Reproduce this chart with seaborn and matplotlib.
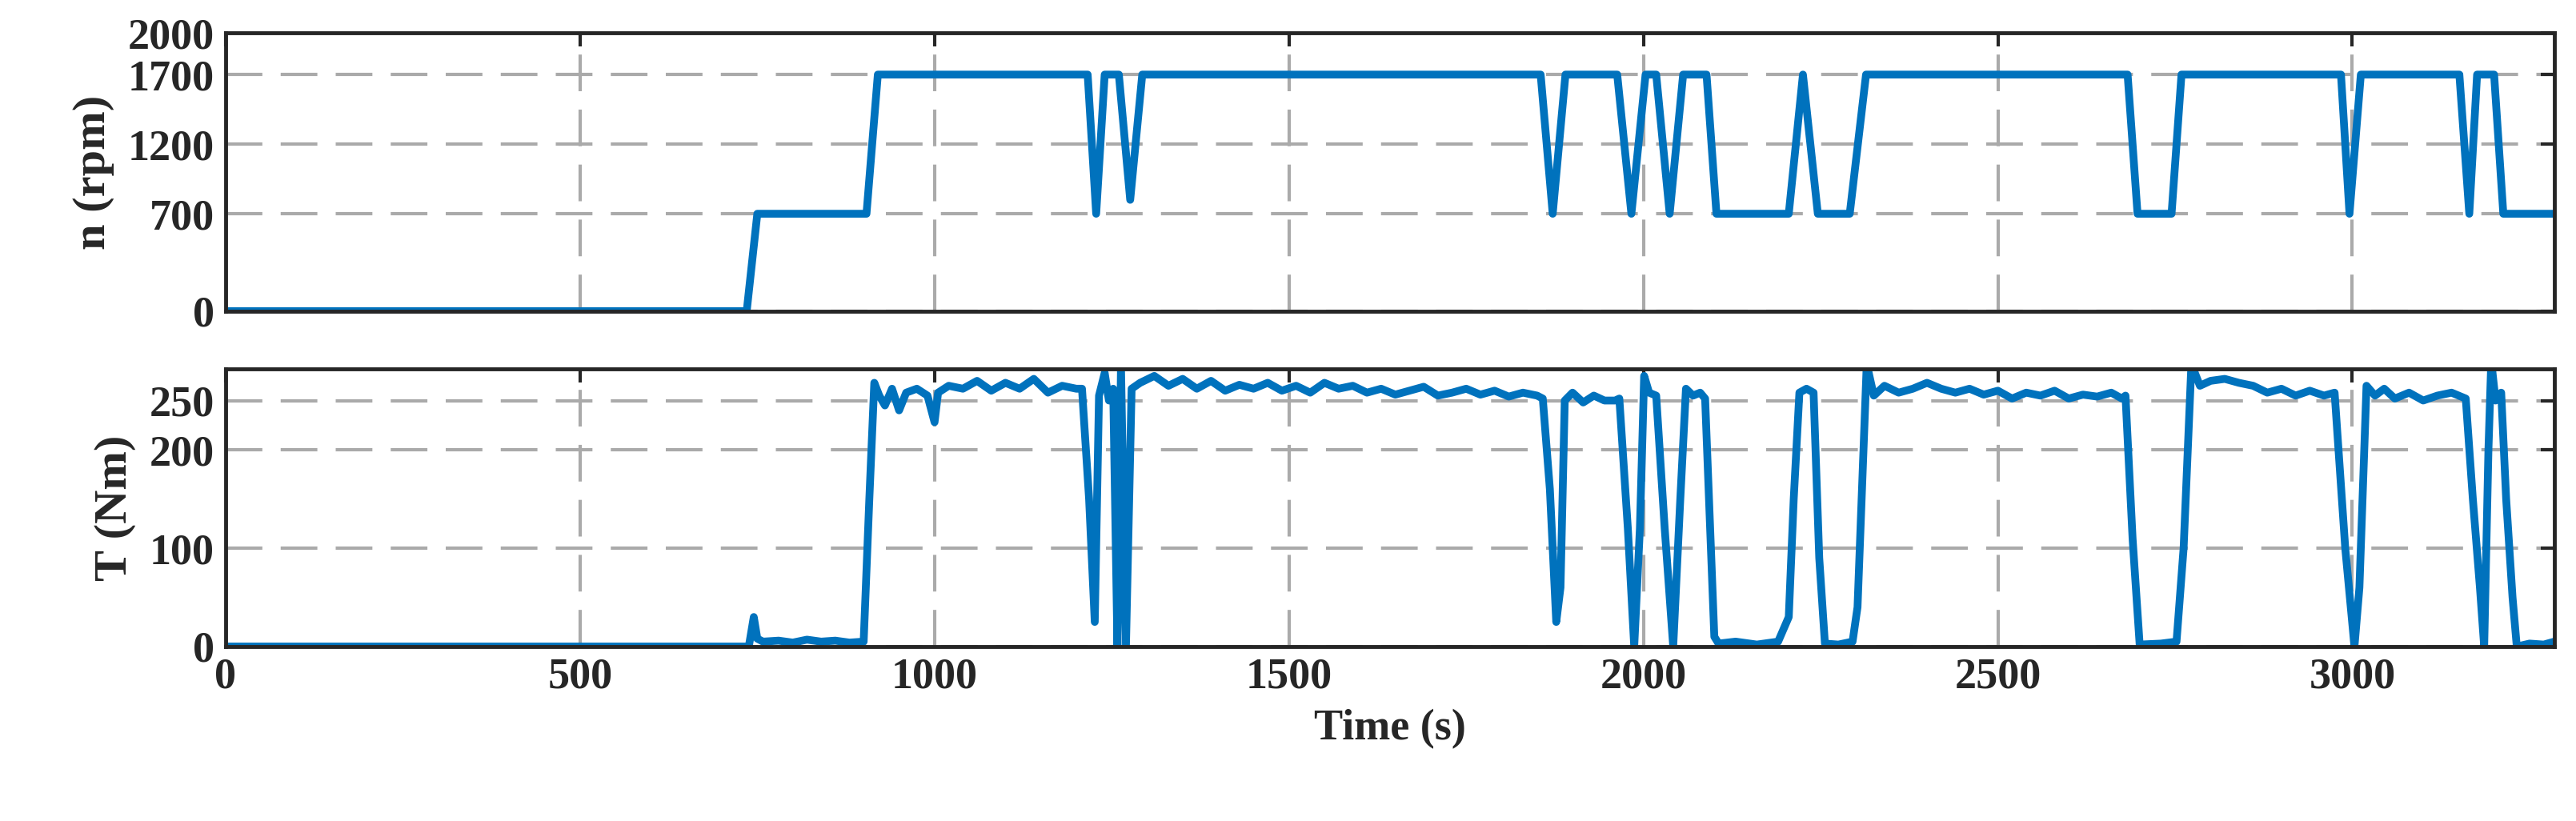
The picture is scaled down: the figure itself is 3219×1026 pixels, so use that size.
import matplotlib
matplotlib.use("Agg")
import matplotlib.pyplot as plt
import seaborn as sns
import pandas as pd

# Speed profile (time s, rpm)
speed_points = [(0, 0), (735, 0), (750, 700), (904, 700), (920, 1700), (1205, 1700),
                (1216, 1700), (1228, 700), (1240, 1700), (1250, 1700), (1260, 1700),
                (1276, 800), (1293, 1700), (1855, 1700), (1872, 700), (1890, 1700),
                (1963, 1700), (1983, 700), (2003, 1700), (2018, 1700), (2037, 700),
                (2056, 1700), (2089, 1700), (2103, 700), (2205, 700), (2225, 1700),
                (2246, 700), (2291, 700), (2314, 1700), (2683, 1700), (2697, 700),
                (2745, 700), (2759, 1700), (2984, 1700), (2996, 700), (3012, 1700),
                (3151, 1700), (3165, 700), (3176, 1700), (3200, 1700), (3213, 700),
                (3285, 700)]

# Torque profile (time s, Nm)
torque_points = [
    (0, 0), (738, 0), (745, 30), (750, 8), (758, 5), (780, 6), (800, 4), (820, 7),
    (840, 5), (860, 6), (880, 4), (900, 5), (908, 150), (915, 268), (922, 255),
    (930, 245), (940, 262), (950, 240), (960, 258), (975, 262), (990, 255),
    (1000, 228), (1005, 258), (1020, 265), (1040, 262), (1060, 270), (1080, 260),
    (1100, 268), (1120, 262), (1140, 272), (1160, 258), (1180, 265), (1200, 262),
    (1208, 262), (1218, 150), (1226, 25), (1232, 255), (1240, 278), (1246, 250),
    (1252, 262), (1258, 0), (1263, 285), (1270, 0), (1278, 262),
    (1290, 268), (1310, 275), (1330, 265), (1350, 272), (1370, 262), (1390, 270),
    (1410, 260), (1430, 266), (1450, 262), (1470, 268), (1490, 260), (1510, 265),
    (1530, 258), (1550, 268), (1570, 262), (1590, 265), (1610, 258), (1630, 262),
    (1650, 256), (1670, 260), (1690, 264), (1710, 255), (1730, 258), (1750, 262),
    (1770, 256), (1790, 260), (1810, 254), (1830, 258), (1850, 255),
    (1858, 252), (1868, 160), (1877, 25), (1883, 60), (1889, 250), (1900, 258),
    (1915, 248), (1930, 255), (1945, 250), (1960, 250),
    (1966, 252), (1978, 120), (1987, 0), (1995, 120), (2001, 275), (2008, 258),
    (2018, 255), (2030, 120), (2042, 0), (2052, 150), (2060, 262), (2070, 255),
    (2080, 258), (2087, 252), (2100, 10), (2106, 3), (2130, 5), (2160, 2),
    (2190, 5), (2205, 30), (2212, 150), (2220, 258), (2230, 262), (2240, 258),
    (2248, 90), (2256, 3), (2275, 2), (2295, 5), (2302, 40), (2315, 287), (2325, 255),
    (2340, 265), (2360, 258), (2380, 262), (2400, 268), (2420, 262), (2440, 258),
    (2460, 262), (2480, 256), (2500, 260), (2520, 252), (2540, 258), (2560, 255),
    (2580, 260), (2600, 252), (2620, 256), (2640, 254), (2660, 258), (2675, 252),
    (2680, 255), (2690, 110), (2700, 2), (2730, 3), (2752, 5), (2762, 100),
    (2773, 287), (2785, 265), (2800, 270), (2820, 272), (2840, 268), (2860, 265),
    (2880, 258), (2900, 262), (2920, 255), (2940, 260), (2960, 255), (2975, 258),
    (2990, 100), (3003, 0), (3010, 60), (3020, 265), (3032, 255), (3045, 262),
    (3060, 252), (3080, 258), (3100, 250), (3120, 255), (3140, 258), (3160, 252),
    (3170, 150), (3180, 60), (3186, 0), (3192, 200), (3196, 290), (3202, 250),
    (3210, 258), (3217, 150), (3226, 50), (3232, 0), (3250, 3), (3270, 2), (3285, 5),
]

blue = "#0072BD"
sns.set_theme(style="white")
font = "Liberation Serif"
fs = 39

speed_df = pd.DataFrame(speed_points, columns=["t", "n"])
torque_df = pd.DataFrame(torque_points, columns=["t", "T"])

fig = plt.figure(figsize=(32.19, 10.26), dpi=100)
ax1 = fig.add_axes([0.0876, 0.621, 0.904, 0.339])
ax2 = fig.add_axes([0.0876, 0.2125, 0.904, 0.338])

sns.lineplot(data=speed_df, x="t", y="n", ax=ax1, color=blue, lw=7,
             estimator=None, sort=False)
sns.lineplot(data=torque_df, x="t", y="T", ax=ax2, color=blue, lw=7,
             estimator=None, sort=False)

ax1.set_ylim(0, 2000)
ax1.set_yticks([0, 700, 1200, 1700, 2000])
ax2.set_ylim(0, 282)
ax2.set_yticks([0, 100, 200, 250])
for ax in (ax1, ax2):
    ax.set_xlim(0, 3285)
    ax.set_xticks([0, 500, 1000, 1500, 2000, 2500, 3000])
    ax.grid(True, color="#aaaaaa", linestyle=(0, (11, 5.5)), linewidth=3)
    ax.tick_params(direction="in", length=12, width=3, top=True, right=True,
                   labelsize=fs, color="#262626", pad=10)
    for lab in ax.get_xticklabels() + ax.get_yticklabels():
        lab.set_fontfamily(font)
        lab.set_fontweight("bold")
    for s in ax.spines.values():
        s.set_linewidth(3.5)
        s.set_color("#262626")
        s.set_visible(True)
    ax.set_xlabel("")
ax1.set_xticklabels([])
ax1.set_ylabel("n (rpm)", fontsize=fs + 3, fontweight="bold", fontfamily=font, labelpad=12)
ax2.set_ylabel("T (Nm)", fontsize=fs + 3, fontweight="bold", fontfamily=font, labelpad=12)
ax2.set_xlabel("Time (s)", fontsize=fs, fontweight="bold", fontfamily=font, labelpad=10)
fig.align_ylabels([ax1, ax2])

fig.savefig("out.png", dpi=100)
